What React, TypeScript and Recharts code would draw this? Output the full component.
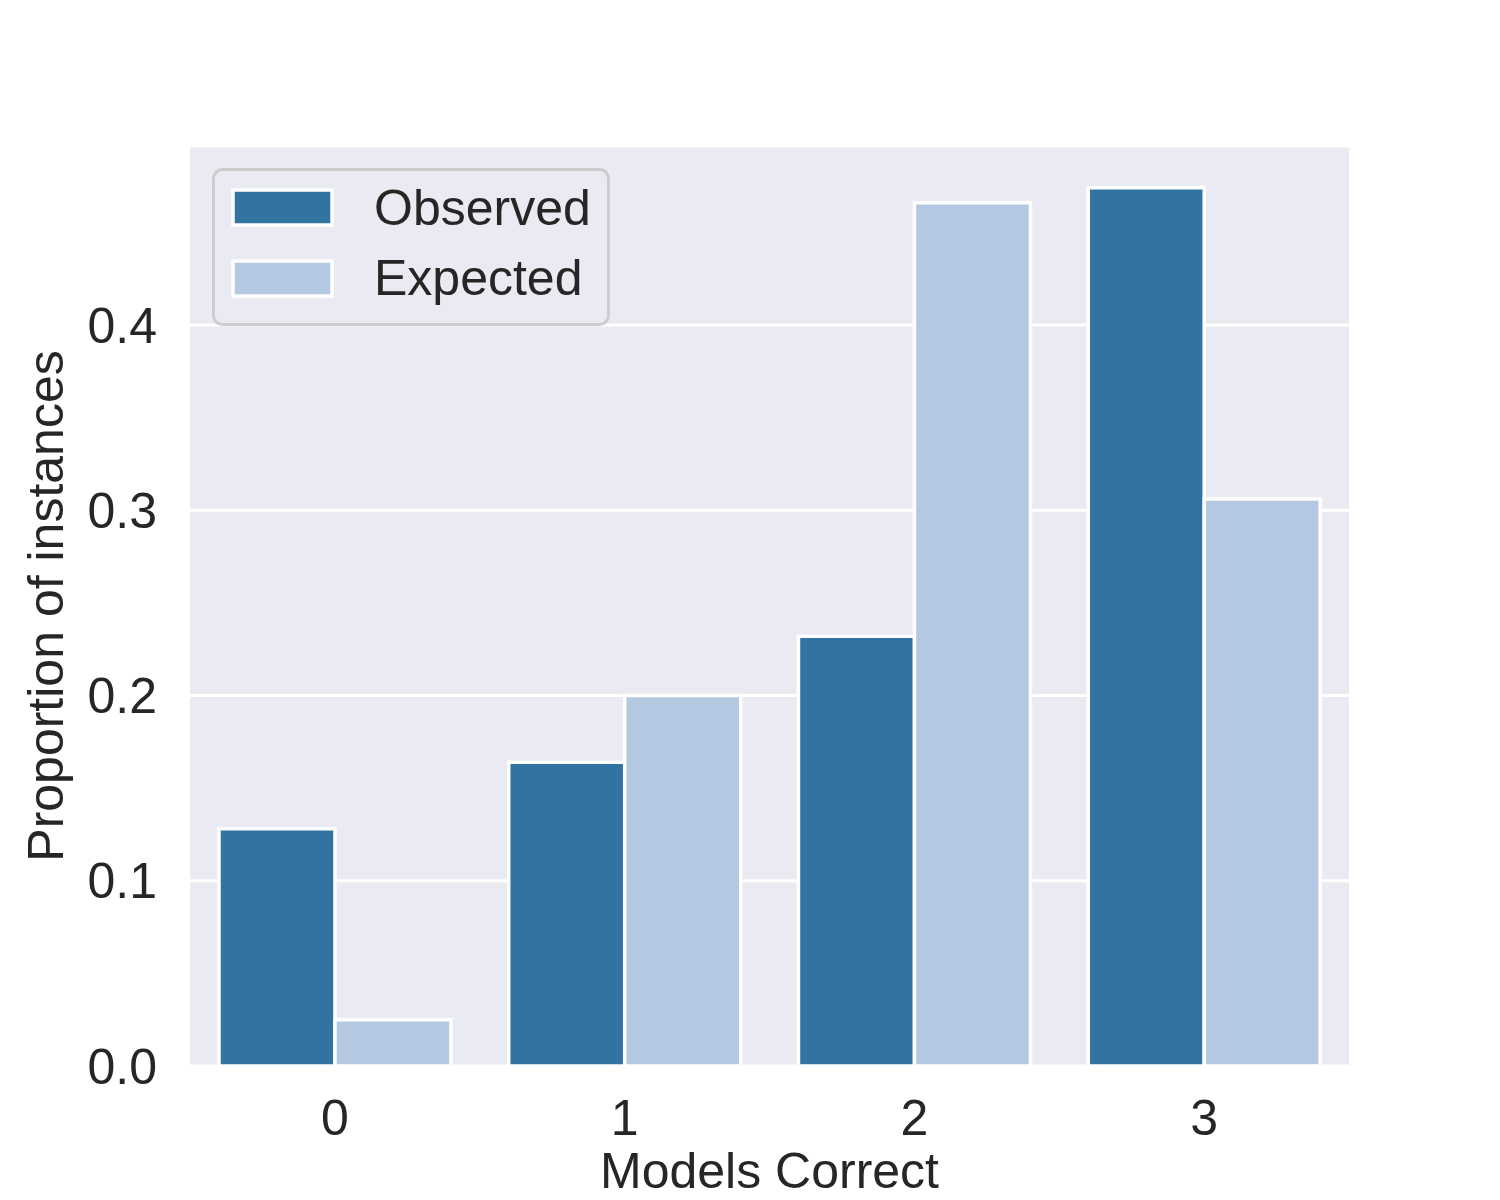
import { BarChart, Bar, XAxis, YAxis, CartesianGrid, Legend } from "recharts"

const categories = ["0", "1", "2", "3"]
const seriesNames = ["Observed", "Expected"]
const observed = [0.128, 0.164, 0.232, 0.474]
const expected = [0.025, 0.2, 0.466, 0.306]
const yTicks = [0, 0.1, 0.2, 0.3, 0.4]

const data = categories.map((c, i) => ({
  models: c,
  Observed: observed[i],
  Expected: expected[i],
}))

const FONT = "'Liberation Sans', Arial, Helvetica, sans-serif"
const TEXT = "#262626"
const SIZE = 50

function LegendBox({ payload }: any) {
  const items = [...(payload || [])].sort(
    (a: any, b: any) => seriesNames.indexOf(a.value) - seriesNames.indexOf(b.value)
  )
  return (
    <svg width={398} height={158} style={{ display: "block" }}>
      <rect x={1.5} y={1.5} width={395} height={155} rx={9} fill="#eaeaf2" stroke="#cccccc" strokeWidth={3} />
      {items.map((p: any, i: number) => (
        <g key={p.value}>
          <rect x={21} y={22 + i * 71} width={99} height={35} fill={p.color} stroke="#ffffff" strokeWidth={3.5} />
          <text x={162} y={57 + i * 70} fontSize={SIZE} fontFamily={FONT} fill={TEXT}>
            {p.value}
          </text>
        </g>
      ))}
    </svg>
  )
}

export default function App() {
  return (
    <div style={{ position: "absolute", left: 0, top: 0, background: "#fff" }}>
      <BarChart
        width={1500}
        height={1200}
        data={data}
        margin={{ top: 146, right: 151, bottom: 0, left: 0 }}
        barCategoryGap="10%"
        barGap={0}
      >
        <CartesianGrid vertical={false} stroke="#ffffff" strokeWidth={3} fill="#eaeaf2" />
        <XAxis
          dataKey="models"
          height={134}
          axisLine={false}
          tickLine={false}
          tickSize={6}
          tickMargin={27}
          tick={{ fill: TEXT, fontSize: SIZE, fontFamily: FONT }}
          label={{
            value: "Models Correct",
            position: "insideBottom",
            offset: 12,
            fill: TEXT,
            fontSize: SIZE,
            fontFamily: FONT,
          }}
        />
        <YAxis
          width={190}
          domain={[0, 0.4966]}
          ticks={yTicks}
          tickFormatter={(v: number) => v.toFixed(1)}
          axisLine={false}
          tickLine={false}
          tickSize={6}
          tickMargin={27}
          tick={{ fill: TEXT, fontSize: SIZE, fontFamily: FONT }}
          label={{
            value: "Proportion of instances",
            angle: -90,
            position: "insideLeft",
            offset: 45,
            fill: TEXT,
            fontSize: SIZE,
            fontFamily: FONT,
            style: { textAnchor: "middle" },
          }}
        />
        <Legend
          layout="horizontal"
          align="center"
          verticalAlign="middle"
          content={<LegendBox />}
          wrapperStyle={{ position: "absolute", left: 212, top: 168, width: 398, height: 158 }}
        />
        <Bar dataKey="Observed" fill="#3274a1" stroke="#ffffff" strokeWidth={3.5} isAnimationActive={false} />
        <Bar dataKey="Expected" fill="#b4c8e1" stroke="#ffffff" strokeWidth={3.5} isAnimationActive={false} />
      </BarChart>
    </div>
  )
}
